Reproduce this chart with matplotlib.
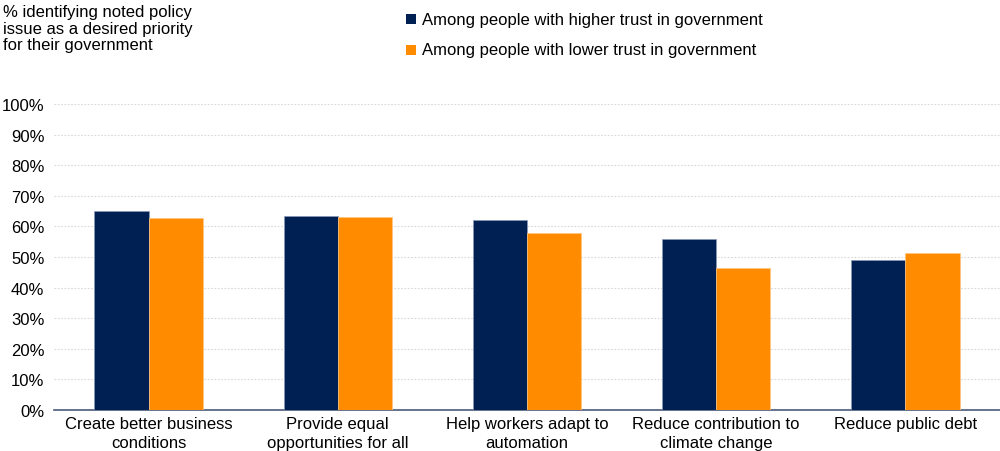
import numpy as np
import matplotlib.pyplot as plt
from matplotlib.patches import Rectangle

plt.rcParams['font.family'] = ['Liberation Sans', 'DejaVu Sans']

categories = ['Create better business\nconditions', 'Provide equal\nopportunities for all',
              'Help workers adapt to\nautomation', 'Reduce contribution to\nclimate change',
              'Reduce public debt']
higher_trust = [65.0, 63.5, 62.0, 56.0, 49.0]
lower_trust = [62.8, 63.1, 57.8, 46.5, 51.2]
series_names = ['Among people with higher trust in government',
                'Among people with lower trust in government']
navy = '#002054'
orange = '#FF8C00'

fig = plt.figure(figsize=(10, 4.52), dpi=100)
ax = fig.add_axes([0.054, 0.0907, 0.946, 0.677])

x = np.arange(len(categories))
w = 0.286
ax.bar(x - w / 2, higher_trust, w, color=navy, edgecolor='#8a9ab5', linewidth=0.5, zorder=3)
ax.bar(x + w / 2, lower_trust, w, color=orange, edgecolor='#ffc680', linewidth=0.5, zorder=3)

ax.set_xlim(-0.5, len(categories) - 0.5)
ax.set_ylim(0, 100)
ax.set_yticks(np.arange(0, 101, 10))
ax.set_yticklabels([f'{v}%' for v in range(0, 101, 10)], fontsize=12)
ax.set_xticks(x)
ax.set_xticklabels(categories, fontsize=12, linespacing=1.35)
ax.tick_params(axis='both', length=0, colors='black')
ax.tick_params(axis='y', pad=7)
ax.tick_params(axis='x', pad=4)

ax.yaxis.grid(True, color='#d9d9d9', linestyle=(0, (1.5, 1.5)), linewidth=0.8, zorder=0)
for s in ['top', 'right', 'left']:
    ax.spines[s].set_visible(False)
ax.spines['bottom'].set_color('#4a5a78')
ax.spines['bottom'].set_linewidth(1.2)

fig.text(0.003, 0.988, '% identifying noted policy\nissue as a desired priority\nfor their government',
         fontsize=12, va='top', ha='left', linespacing=1.12)

for i, (name, col) in enumerate(zip(series_names, [navy, orange])):
    yy = 1 - (20 + 31 * i) / 452
    fig.patches.append(Rectangle((0.406, yy - 0.011), 0.0095, 0.021, transform=fig.transFigure,
                                 facecolor=col, edgecolor='none', figure=fig))
    fig.text(0.422, yy, name, fontsize=12, va='center', ha='left')

fig.savefig('out.png', dpi=100)
